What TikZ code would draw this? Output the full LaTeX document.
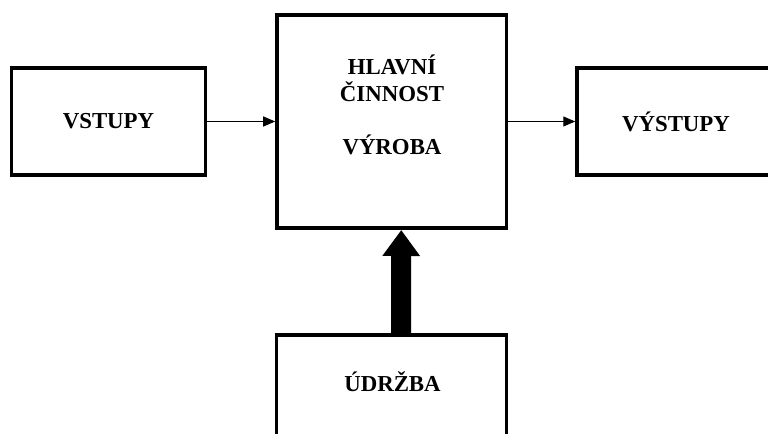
\documentclass[tikz,border=0pt]{standalone}
\usepackage{fontspec}
\setmainfont{Liberation Serif}
\usepackage{tikz}
\usetikzlibrary{arrows.meta}

\begin{document}
\begin{tikzpicture}
                      \tikzstyle{box}=[draw=black,line width=2pt,inner sep=0pt,font=\fontsize{13}{15}\selectfont\bfseries]
                      \tikzstyle{label}=[inner sep=0pt,anchor=base,font=\fontsize{13}{15}\selectfont\bfseries]
                      \tikzstyle{thin}=[line width=0.6pt,-{Triangle[length=0.24cm,width=0.2cm]}]
                      \clip (0,0) rectangle (15.36,8.66);
                      \node[box,minimum width=3.88cm,minimum height=2.15cm] (vstupy) at (2.17,6.23) {VSTUPY};
                      \node[box,minimum width=4.59cm,minimum height=4.27cm] (hlavni) at (7.835,6.23) {};
                      \node[box,minimum width=3.96cm,minimum height=2.13cm] (vystupy) at (13.52,6.23) {VÝSTUPY};
                      \node[box,minimum width=4.6cm,minimum height=2.1cm] (udrzba) at (7.83,0.91) {};
                      \node[label] (hlavnitext) at (7.84,7.16) {HLAVNÍ};
                      \node[label] (cinnost) at (7.84,6.62) {ČINNOST};
                      \node[label] (vyroba) at (7.84,5.56) {VÝROBA};
                      \node[label] (udrzbatext) at (7.85,0.82) {ÚDRŽBA};
                      \draw[thin] (vstupy) -- (hlavni);
                      \draw[thin] (hlavni.east |- vystupy.west) -- (vystupy.west);
                      \draw[line width=0.4cm,-{Triangle[length=0.52cm,width=0.72cm]}] ([xshift=0.19cm]udrzba.north) -- ([xshift=0.19cm]hlavni.south);
                  \end{tikzpicture}
\end{document}
